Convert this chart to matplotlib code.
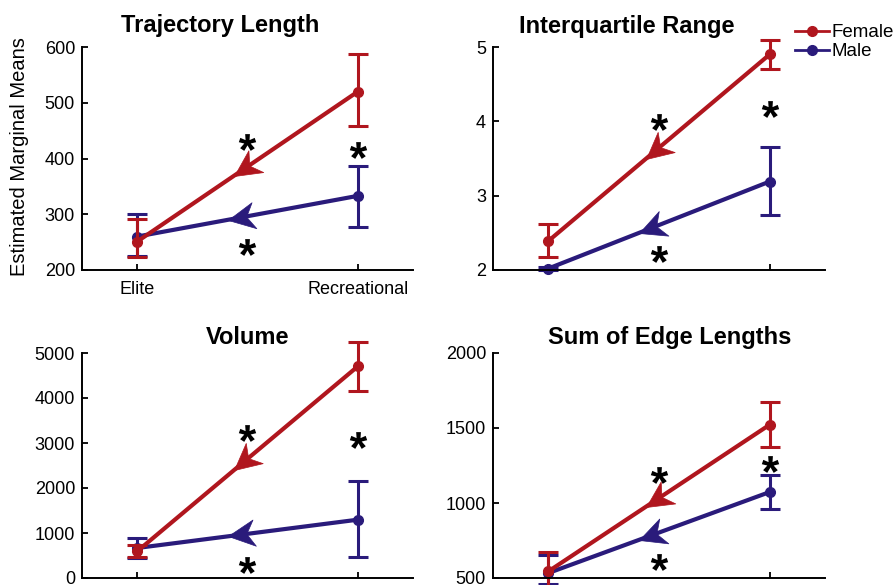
import numpy as np
import matplotlib
matplotlib.use('Agg')
import matplotlib.pyplot as plt
from matplotlib.markers import MarkerStyle
from matplotlib.path import Path
from matplotlib.textpath import TextPath
from matplotlib.font_manager import FontProperties
from matplotlib.transforms import Affine2D
from matplotlib.lines import Line2D

plt.rcParams['font.family'] = ['Liberation Sans', 'DejaVu Sans']

groups = ['Elite', 'Recreational']
titles = ['Trajectory Length', 'Interquartile Range', 'Volume', 'Sum of Edge Lengths']

# means and error bar ends (low, high), per panel: [Elite, Recreational]
female_mean = [[251, 520], [2.39, 4.90], [593, 4704], [544, 1522]]
female_low = [[224, 459], [2.17, 4.70], [467, 4148], [415, 1373]]
female_high = [[292, 587], [2.62, 5.09], [740, 5244], [673, 1673]]
male_mean = [[260, 333], [2.02, 3.19], [667, 1296], [533, 1073]]
male_low = [[226, 278], [2.00, 2.74], [445, 459], [462, 962]]
male_high = [[300, 387], [2.04, 3.65], [889, 2148], [656, 1184]]

# significance stars: (above female arrow, below male arrow, at Recreational)
star_y = [[430, 242, 415], [3.99, 2.22, 4.17], [3222, 296, 3059], [1189, 607, 1262]]

ylims = [(200, 600), (2, 5), (0, 5000), (500, 2000)]
yticks = [[200, 300, 400, 500, 600], [2, 3, 4, 5],
          [0, 1000, 2000, 3000, 4000, 5000], [500, 1000, 1500, 2000]]

red = '#B0161E'
blue = '#2A1B7B'

W, H = 895, 585
rects = [(82, 47, 331, 223), (493, 47, 332, 223), (82, 353, 331, 225), (493, 353, 332, 225)]
title_pos = [(0.417, 1.067), (0.404, 1.063), (0.5, 1.04), (0.533, 1.04)]


def star_path():
    tp = TextPath((0, 0), '*', prop=FontProperties(family='Liberation Sans', weight='bold'))
    v = tp.vertices.copy()
    codes = tp.codes
    ok = codes != Path.CLOSEPOLY
    c = (v[ok].min(0) + v[ok].max(0)) / 2
    v = v - c
    v[~ok] = 0
    return Path(v, codes)


STAR = star_path()
HEAD = Path([(0, 0), (-1, 0.5), (-0.7, 0), (-1, -0.5), (0, 0)],
            [Path.MOVETO, Path.LINETO, Path.LINETO, Path.LINETO, Path.CLOSEPOLY])


def arrow_head(ax, x0, y0, x1, y1, xt, color):
    # head on the line, pointing from (x1, y1) back to (x0, y0)
    yt = y0 + (xt - x0) * (y1 - y0) / (x1 - x0)
    p0 = ax.transData.transform((x0, y0))
    p1 = ax.transData.transform((x1, y1))
    ang = np.degrees(np.arctan2(p0[1] - p1[1], p0[0] - p1[0]))
    m = MarkerStyle(HEAD, transform=Affine2D().rotate_deg(ang))
    ax.plot(xt, yt, marker=m, markersize=38, color=color, mec=color, mew=0.5,
            linestyle='none', zorder=5)


fig = plt.figure(figsize=(W / 100, H / 100), dpi=100)
x = np.array([1, 2])

for i in range(4):
    l, t, w, h = rects[i]
    ax = fig.add_axes([l / W, (H - t - h) / H, w / W, h / H])
    ax.set_xlim(0.75, 2.25)
    ax.set_ylim(*ylims[i])
    ax.set_yticks(yticks[i])
    ax.set_xticks(x)
    if i == 0:
        ax.set_xticklabels(groups)
    else:
        ax.set_xticklabels([])
    for s in ['top', 'right']:
        ax.spines[s].set_visible(False)
    for s in ['left', 'bottom']:
        ax.spines[s].set_linewidth(1.4)
    ax.tick_params(direction='in', length=4, width=1.3, labelsize=13, pad=5)
    ax.tick_params(axis='x', pad=8)
    ax.text(title_pos[i][0], title_pos[i][1], titles[i], transform=ax.transAxes,
            ha='center', va='baseline', fontsize=17, fontweight='bold')

    for mean, lo, hi, col in [(male_mean[i], male_low[i], male_high[i], blue),
                              (female_mean[i], female_low[i], female_high[i], red)]:
        mean = np.array(mean)
        err = [mean - np.array(lo), np.array(hi) - mean]
        ax.errorbar(x, mean, yerr=err, fmt='none', ecolor=col, elinewidth=2.2,
                    capsize=7.5, capthick=2.2, clip_on=False)
        ax.plot(x, mean, '-', color=col, lw=3, marker='o', markersize=7, clip_on=False)
        arrow_head(ax, 1, mean[0], 2, mean[1], 1.44 if col == red else 1.41, col)

    ax.plot([1.5, 1.5, 2], star_y[i], linestyle='none', marker=STAR, markersize=12.5,
            color='black', mew=0)

fig.text(20 / W, 1 - 157 / H, 'Estimated Marginal Means', rotation=90,
         ha='center', va='center', fontsize=14.5)

handles = [Line2D([], [], color=red, lw=2, marker='o', markersize=7),
           Line2D([], [], color=blue, lw=2, marker='o', markersize=7)]
fig.legend(handles, ['Female', 'Male'], loc='upper left', bbox_to_anchor=(795 / W, 1 - 24 / H),
           frameon=False, fontsize=13.5, handlelength=1.8, handletextpad=0.15,
           labelspacing=0.1, borderpad=0, borderaxespad=0)

fig.savefig('out.png', dpi=100)
